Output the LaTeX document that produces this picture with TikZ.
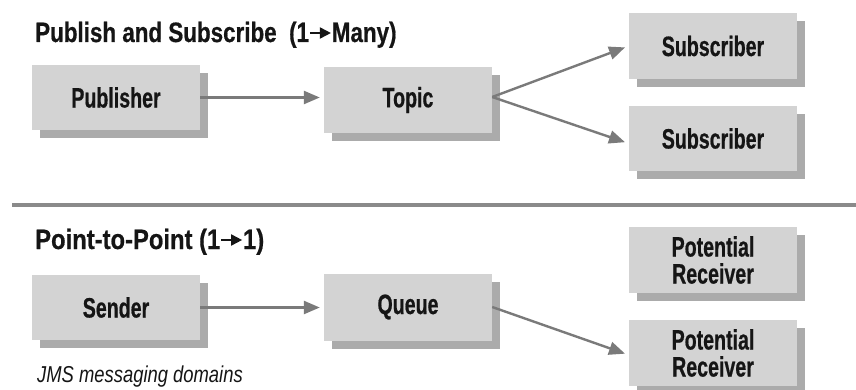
\documentclass[tikz,border=0pt]{standalone}
\usepackage{fontspec}
\setmainfont{Liberation Sans}[FakeStretch=0.8]
\newfontfamily\boxfont{Liberation Sans}[FakeStretch=0.7,BoldFeatures={FakeBold=0.6}]
\newfontfamily\titlefont{Liberation Sans}[FakeStretch=0.8,BoldFeatures={FakeBold=0.6}]
\newfontfamily\titlefontb{Liberation Sans}[FakeStretch=0.85,BoldFeatures={FakeBold=0.6}]
\usetikzlibrary{shadows,arrows.meta}
\definecolor{boxfill}{HTML}{D3D3D3}
\definecolor{shadowc}{HTML}{ABABAB}
\definecolor{linec}{HTML}{7A7A7A}
\definecolor{rulec}{HTML}{8A8A8A}
\definecolor{inkc}{HTML}{151515}
\newcommand{\titlearrow}{\tikz[baseline=0pt]\draw[inkc,line width=1.8pt,-{Triangle[length=11pt,width=11pt]}] (1pt,9pt) -- (22pt,9pt);}
\begin{document}
\begin{tikzpicture}[x=1pt,y=-1pt,
  box/.style={fill=boxfill,draw=none,minimum width=168pt,inner sep=0pt,
    text=inkc,font=\boxfont\fontsize{28}{27}\selectfont\bfseries,align=center,
    drop shadow={shadow xshift=8pt,shadow yshift=-8pt,fill=shadowc,opacity=1}},
  conn/.style={draw=linec,line width=2.4pt,-{Triangle[length=16pt,width=13pt]},shorten >=4pt},
  heading/.style={anchor=base west,inner sep=0pt,text=inkc}]
\useasboundingbox (0,0) rectangle (856,390);
% headings
\node[heading,font=\titlefont\fontsize{28}{30}\selectfont\bfseries] (t1) at (35,42) {Publish and Subscribe\ \ (1\titlearrow Many)};
\node[heading,font=\titlefontb\fontsize{28}{30}\selectfont\bfseries] (t2) at (35,249) {Point-to-Point (1\titlearrow 1)};
\node[heading,font=\fontsize{23}{25}\selectfont\itshape] (cap) at (37,382) {JMS messaging domains};
% rule
\coordinate (rl) at (12,205);
\coordinate (rr) at (856,205);
\draw[rulec,line width=4pt] (rl) -- (rr);
% publish/subscribe
\node[box,minimum height=65pt] (pub) at (116,97.5) {Publisher};
\node[box,minimum height=66pt] (topic) at (408,100) {Topic};
\node[box,minimum height=66pt] (sub1) at (713,46) {Subscriber};
\node[box,minimum height=65pt] (sub2) at (713,138.5) {Subscriber};
% point to point
\node[box,minimum height=65pt] (send) at (116,307.5) {Sender};
\node[box,minimum height=67pt] (queue) at (408,307) {Queue};
\node[box,minimum height=66pt] (pr1) at (713,260) {Potential\\Receiver};
\node[box,minimum height=66pt] (pr2) at (713,353) {Potential\\Receiver};
% connectors
\draw[conn] (pub.east) -- (pub.east -| topic.west);
\draw[conn] ([yshift=3pt]topic.east) -- (sub1.west);
\draw[conn] ([yshift=3pt]topic.east) -- ([yshift=-5pt]sub2.west);
\draw[conn] (send.east) -- (send.east -| queue.west);
\draw[conn] (queue.east) -- ([yshift=-2pt]pr2.west);
\end{tikzpicture}
\end{document}
